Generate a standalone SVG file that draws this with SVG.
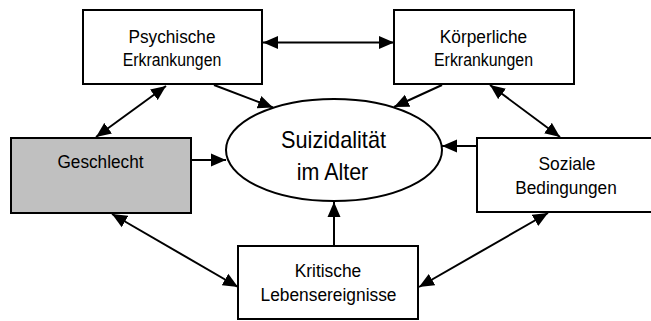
<svg xmlns="http://www.w3.org/2000/svg" width="651" height="321" viewBox="0 0 651 321">
<style>
.box{fill:#fff;stroke:#000;stroke-width:2}
.gray{fill:#c0c0c0}
.t{font-family:"Liberation Sans",Arial,sans-serif;font-size:17.5px;fill:#000;text-anchor:middle}
.big{font-size:24px}
.c{stroke:#000;stroke-width:2;fill:none;marker-end:url(#ah)}
.bi{marker-start:url(#ah)}
</style>
<defs>
<marker id="ah" markerUnits="userSpaceOnUse" markerWidth="16" markerHeight="14" viewBox="0 0 16 14" refX="15" refY="7" orient="auto-start-reverse">
<path d="M0,0.5 L15,7 L0,13.5 z" fill="#000"/>
</marker>
</defs>
<rect width="651" height="321" fill="#fff"/>
<g id="connectors">
<path class="c bi" d="M263,42.5 L394,42.5"/>
<path class="c" d="M214,85 L273,107.5"/>
<path class="c bi" d="M166,86 L96,137"/>
<path class="c" d="M442,85 L394,107"/>
<path class="c bi" d="M490,85 L560,137"/>
<path class="c" d="M477,146 L442,146"/>
<path class="c" d="M191,160 L226,160"/>
<path class="c" d="M334,246 L334,202"/>
<path class="c bi" d="M112,214 L238,287"/>
<path class="c bi" d="M548,213 L419,287"/>
</g>
<g id="psychische">
<rect class="box" x="83" y="10" width="179" height="74"/>
<text class="t" x="172" y="42.5" textLength="87" lengthAdjust="spacingAndGlyphs">Psychische</text>
<text class="t" x="172" y="66" textLength="98.5" lengthAdjust="spacingAndGlyphs">Erkrankungen</text>
</g>
<g id="koerperliche">
<rect class="box" x="394" y="10" width="180" height="74"/>
<text class="t" x="483.5" y="42.5" textLength="87.5" lengthAdjust="spacingAndGlyphs">Körperliche</text>
<text class="t" x="483.5" y="66" textLength="99" lengthAdjust="spacingAndGlyphs">Erkrankungen</text>
</g>
<g id="geschlecht">
<rect class="box gray" x="11" y="138" width="180" height="75"/>
<text class="t" x="100.5" y="168" textLength="86" lengthAdjust="spacingAndGlyphs">Geschlecht</text>
</g>
<g id="soziale">
<rect class="box" x="477" y="138" width="176" height="74"/>
<text class="t" x="567" y="170" textLength="57" lengthAdjust="spacingAndGlyphs">Soziale</text>
<text class="t" x="566" y="194" textLength="101.5" lengthAdjust="spacingAndGlyphs">Bedingungen</text>
</g>
<g id="kritische">
<rect class="box" x="238" y="246" width="180" height="73"/>
<text class="t" x="328" y="277" textLength="66.5" lengthAdjust="spacingAndGlyphs">Kritische</text>
<text class="t" x="328.5" y="301" textLength="136" lengthAdjust="spacingAndGlyphs">Lebensereignisse</text>
</g>
<g id="suizidalitaet">
<ellipse class="box" cx="334" cy="150" rx="108" ry="51"/>
<text class="t big" x="333.5" y="148" textLength="105" lengthAdjust="spacingAndGlyphs">Suizidalität</text>
<text class="t big" x="332.5" y="180" textLength="71.5" lengthAdjust="spacingAndGlyphs">im Alter</text>
</g>
</svg>
